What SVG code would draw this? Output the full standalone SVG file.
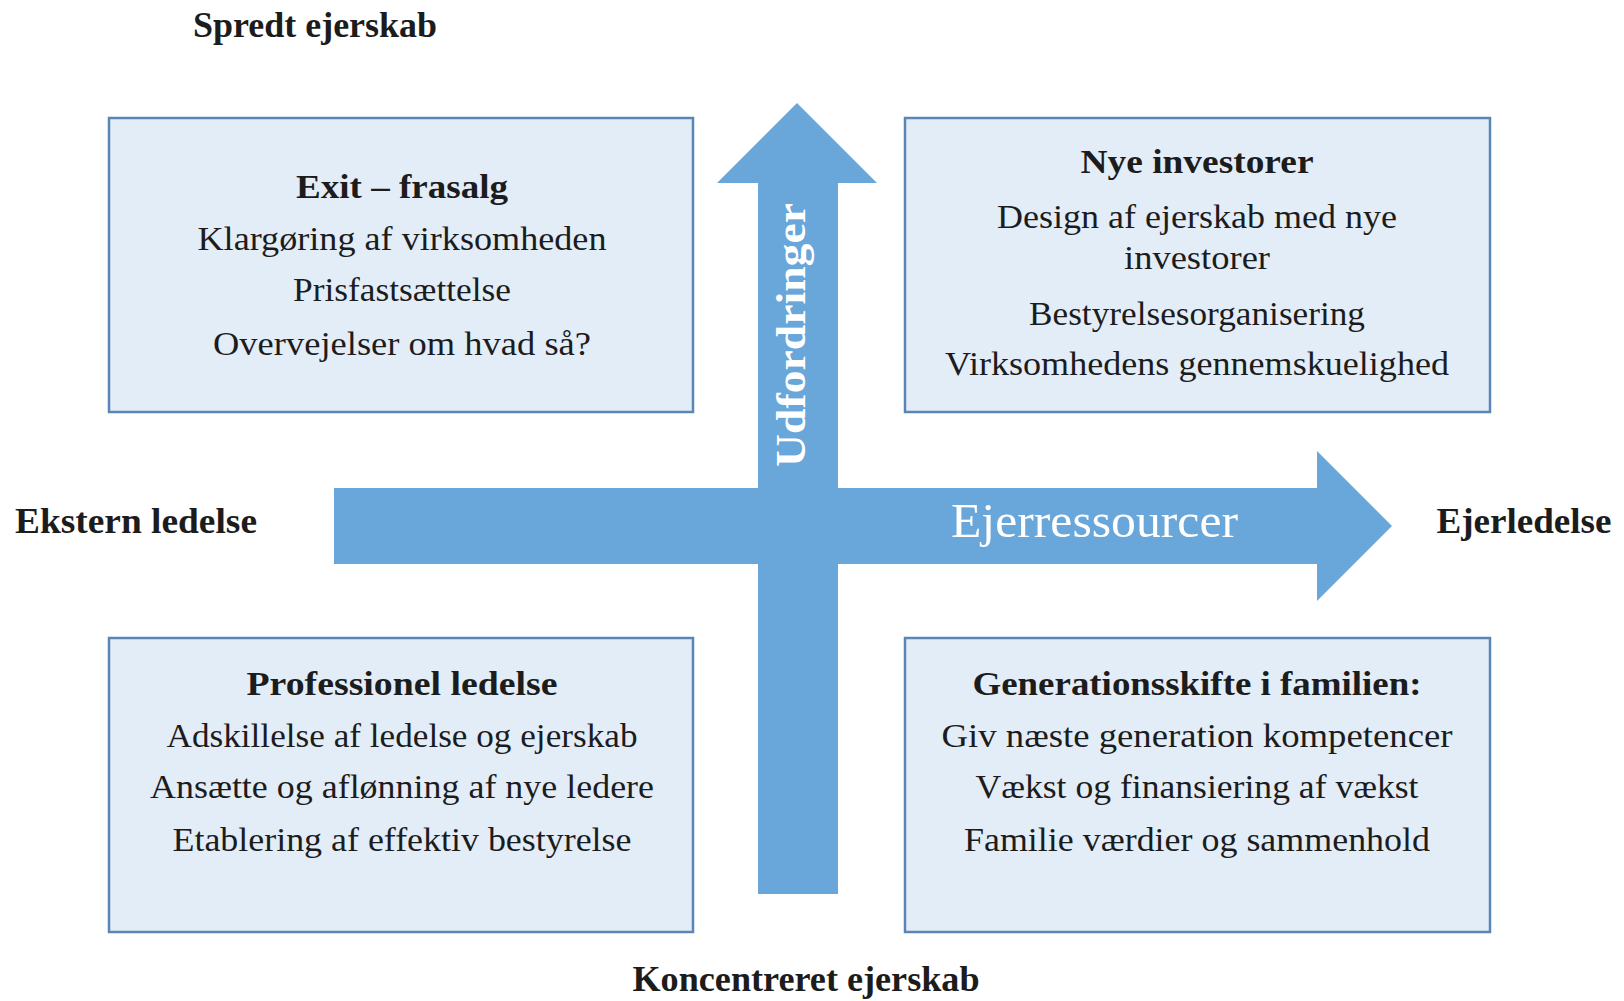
<svg xmlns="http://www.w3.org/2000/svg" width="1624" height="1001" viewBox="0 0 1624 1001">
<style>
text{font-family:"Liberation Serif","DejaVu Serif",serif;fill:#1c1c1c;text-anchor:middle}
.lab{font-size:35px;font-weight:bold}
.hd{font-size:34px;font-weight:bold}
.bd{font-size:34px}
.box{fill:#e3edf8;stroke:#5a86b6;stroke-width:2.5}
.arr{fill:#69a6da}
.wt{fill:#ffffff}
</style>
<rect width="1624" height="1001" fill="#ffffff"/>
<g id="connectors">
<polygon class="arr" points="334,488 1317,488 1317,451 1392,526 1317,601 1317,564 334,564"/>
<polygon class="arr" points="758,894 758,183 717,183 797,103 877,183 838,183 838,894"/>
<text class="wt" x="951" y="537" style="font-size:48px;text-anchor:start;fill:#ffffff" textLength="287" lengthAdjust="spacingAndGlyphs">Ejerressourcer</text>
<text transform="translate(805,467) rotate(-90)" x="0" y="0" style="font-size:42px;font-weight:bold;text-anchor:start;fill:#ffffff" textLength="264" lengthAdjust="spacingAndGlyphs">Udfordringer</text>
</g>
<g id="labels">
<text class="lab" x="315" y="37" textLength="244" lengthAdjust="spacingAndGlyphs">Spredt ejerskab</text>
<text class="lab" x="136" y="533" textLength="242" lengthAdjust="spacingAndGlyphs">Ekstern ledelse</text>
<text class="lab" x="1524" y="533" textLength="175" lengthAdjust="spacingAndGlyphs">Ejerledelse</text>
<text class="lab" x="806" y="991" textLength="347" lengthAdjust="spacingAndGlyphs">Koncentreret ejerskab</text>
</g>
<g id="exit">
<rect class="box" x="109" y="118" width="584" height="294"/>
<text class="hd" x="402" y="198" textLength="212" lengthAdjust="spacingAndGlyphs">Exit – frasalg</text>
<text class="bd" x="402" y="250" textLength="409" lengthAdjust="spacingAndGlyphs">Klargøring af virksomheden</text>
<text class="bd" x="402" y="301" textLength="218" lengthAdjust="spacingAndGlyphs">Prisfastsættelse</text>
<text class="bd" x="402" y="355" textLength="378" lengthAdjust="spacingAndGlyphs">Overvejelser om hvad så?</text>
</g>
<g id="nye-investorer">
<rect class="box" x="905" y="118" width="585" height="294"/>
<text class="hd" x="1197" y="173" textLength="233" lengthAdjust="spacingAndGlyphs">Nye investorer</text>
<text class="bd" x="1197" y="228" textLength="400" lengthAdjust="spacingAndGlyphs">Design af ejerskab med nye</text>
<text class="bd" x="1197" y="269" textLength="146" lengthAdjust="spacingAndGlyphs">investorer</text>
<text class="bd" x="1197" y="325" textLength="336" lengthAdjust="spacingAndGlyphs">Bestyrelsesorganisering</text>
<text class="bd" x="1197" y="375" textLength="504" lengthAdjust="spacingAndGlyphs">Virksomhedens gennemskuelighed</text>
</g>
<g id="professionel-ledelse">
<rect class="box" x="109" y="638" width="584" height="294"/>
<text class="hd" x="402" y="695" textLength="311" lengthAdjust="spacingAndGlyphs">Professionel ledelse</text>
<text class="bd" x="402" y="747" textLength="471" lengthAdjust="spacingAndGlyphs">Adskillelse af ledelse og ejerskab</text>
<text class="bd" x="402" y="798" textLength="504" lengthAdjust="spacingAndGlyphs">Ansætte og aflønning af nye ledere</text>
<text class="bd" x="402" y="851" textLength="459" lengthAdjust="spacingAndGlyphs">Etablering af effektiv bestyrelse</text>
</g>
<g id="generationsskifte">
<rect class="box" x="905" y="638" width="585" height="294"/>
<text class="hd" x="1197" y="695" textLength="449" lengthAdjust="spacingAndGlyphs">Generationsskifte i familien:</text>
<text class="bd" x="1197" y="747" textLength="511" lengthAdjust="spacingAndGlyphs">Giv næste generation kompetencer</text>
<text class="bd" x="1197" y="798" textLength="443" lengthAdjust="spacingAndGlyphs">Vækst og finansiering af vækst</text>
<text class="bd" x="1197" y="851" textLength="466" lengthAdjust="spacingAndGlyphs">Familie værdier og sammenhold</text>
</g>
</svg>
